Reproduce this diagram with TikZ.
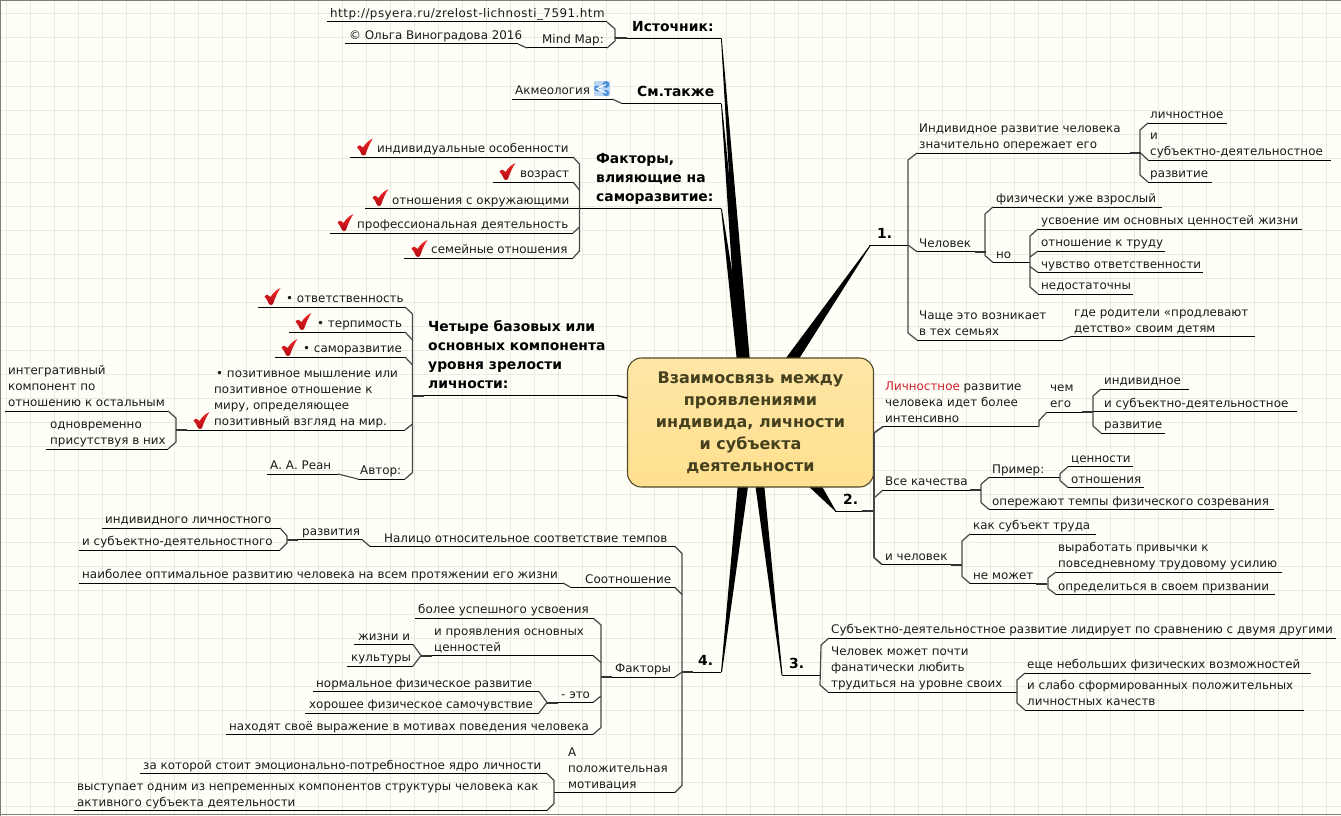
\documentclass[tikz,border=0pt]{standalone}
\usepackage{fontspec}
\setmainfont{DejaVu Sans}
\definecolor{paper}{HTML}{FFFFF8}
\definecolor{gridc}{HTML}{EBEBE1}
\definecolor{framec}{HTML}{808078}
\definecolor{inkc}{HTML}{1A1A1A}
\definecolor{boxfill}{HTML}{FFE08F}
\definecolor{boxtop}{HTML}{FFE6A6}
\definecolor{boxedge}{HTML}{4F4A28}
\definecolor{boxtext}{HTML}{45401E}
\definecolor{redw}{HTML}{D0202E}
\definecolor{chkhi}{HTML}{F0282A}
\definecolor{chklo}{HTML}{B00810}
\definecolor{iconb}{HTML}{4A90DC}
\definecolor{iconl}{HTML}{BBD6F2}
\tikzset{
 ln/.style={draw=black,line width=1pt},
 br/.style={draw=black!72,line width=1.2pt,line join=round},
 stubl/.style={draw=black!80,line width=2pt},
 txt/.style={anchor=south west,inner sep=0pt,align=left,text=inkc,font=\fontsize{11.9}{16}\selectfont},
 btxt/.style={anchor=south west,inner sep=0pt,align=left,text=black,font=\fontsize{13.9}{19}\selectfont\bfseries},
 wedgef/.style={fill=black,draw=none},
 hub/.style={draw=boxedge,line width=1.1pt,rounded corners=14pt,top color=boxtop,bottom color=boxfill,
   minimum width=246pt,minimum height=129pt,inner sep=0pt,align=center,text=boxtext,
   font=\fontsize{16}{22}\selectfont\bfseries},
}
\newcommand\mystrut{\rule[-3.5pt]{0pt}{3.5pt}}
\newcommand\topic[6]{\coordinate (#1-l) at (#2,#4);\coordinate (#1-r) at (#3,#4);
  \draw[ln] (#1-l) -- (#1-r);
  \node[txt] (#1) at (#5,#4-0.5) {#6\mystrut};}
\newcommand\head[6]{\coordinate (#1-l) at (#2,#4);\coordinate (#1-r) at (#3,#4);
  \draw[ln] (#1-l) -- (#1-r);
  \node[btxt] (#1) at (#5,#4-3) {#6\mystrut};}
% bracket on the right end of children a..b / on the left end of children a..b
\newcommand\brR[3][7]{\draw[br] (#2-r) -- ([shift={(#1,7)}]#2-r) -- ([shift={(#1,-7)}]#3-r) -- (#3-r);}
\newcommand\brL[3][8]{\draw[br] (#2-l) -- ([shift={(-#1,7)}]#2-l) -- ([shift={(-#1,-7)}]#3-l) -- (#3-l);}
\newcommand\tickR[3][7]{\draw[br] (#2-r) -- ++(#1,#3);}
\newcommand\tickL[3][8]{\draw[br] (#2-l) -- ++(-#1,#3);}
\newcommand\stubR[1]{\draw[stubl] (#1-r) -- ++(-11,0);}
\newcommand\stubL[1]{\draw[stubl] (#1-l) -- ++(11,0);}
\newcommand\chk[2]{\shade[shift={(#1,#2)},top color=chkhi,bottom color=chklo,draw=none]
  (0.5,8.5) .. controls (2.5,6) and (5,6.5) .. (6.5,9) .. controls (9,5) and (12.5,1.5) .. (16.5,0)
  .. controls (13.5,4) and (11,10) .. (9,16) .. controls (8,17.5) and (6,17.5) .. (5,16)
  .. controls (4,13) and (2.5,11) .. (0.5,8.5) -- cycle;}
\begin{document}
\begin{tikzpicture}[x=1pt,y=-1pt]
\useasboundingbox (0,0) rectangle (1341,816);
\fill[paper] (0,0) rectangle (1341,816);
\foreach \gx in {0,...,55} \draw[gridc,line width=1pt] (6+24*\gx,0) -- (6+24*\gx,816);
\foreach \gy in {0,...,33} \draw[gridc,line width=1pt] (0,14+24*\gy) -- (1341,14+24*\gy);
\draw[framec,line width=1.6pt] (0.6,816) -- (0.6,0.6) -- (1341,0.6);
\draw[framec,line width=1.2pt] (0,814.8) -- (1341,814.8);

% ---- wedges
\coordinate (t1) at (721,38.5); \coordinate (t2) at (721,103.5); \coordinate (t3) at (721,208.5);
\coordinate (tr1) at (870,245); \coordinate (tr2) at (835,511); \coordinate (tr3) at (781.5,675); \coordinate (tr4) at (721,672);
\fill[wedgef] (t1) -- (740,362) -- (750,362) -- (721.8,38.5) -- cycle;
\fill[wedgef] (t2) -- (738,362) -- (748,362) -- (721.8,103.5) -- cycle;
\fill[wedgef] (t3) -- (737,362) -- (747,362) -- (721.8,208.5) -- cycle;
\fill[wedgef] (tr1) -- (783,362) -- (797,362) -- (871,245) -- cycle;
\fill[wedgef] (tr2) -- (805,483) -- (820,483) -- (836,511) -- cycle;
\fill[wedgef] (tr3) -- (755,483) -- (764,483) -- (782.5,675) -- cycle;
\fill[wedgef] (tr4) -- (738,483) -- (748.5,483) -- (722,672) -- cycle;

% ---- top left
\topic{url}{327}{607}{22}{330}{\addfontfeature{LetterSpace=4}http://psyera.ru/zrelost-lichnosti\_7591.htm}
\topic{mm}{527}{607}{48}{542}{Mind Map:}
\topic{olga}{345}{518}{44}{349}{© Ольга Виноградова 2016}
\draw[br] (olga-r) -- (mm-l);
\brR[8]{url}{mm}
\head{src}{615}{721}{38.5}{632}{Источник:}
\draw[stubl] (src-l) -- ++(12,0);

\topic{akm}{512}{612}{99}{515}{Акмеология}
\head{see}{622}{721}{103.5}{637}{См.также}
\draw[br] (akm-r) -- (see-l);
\begin{scope}[shift={(594,81)}]
  \fill[iconl,rounded corners=1pt] (0,0) rectangle (16,15);
  \fill[iconb] (3,7.5) circle (3) (12,3.5) circle (3.4) (12,12) circle (3.2);
  \draw[white,line width=1.2pt] (12,3.5) -- (3,7.5) -- (12,12);
\end{scope}

\topic{find}{350}{573}{157}{377}{индивидуальные особенности}
\topic{fage}{493}{573}{182}{520}{возраст}
\topic{foth}{365}{580}{208.5}{392}{отношения с окружающими}
\topic{fprof}{330}{573}{233}{357}{профессиональная деятельность}
\topic{ffam}{404}{573}{258}{431}{семейные отношения}
\head{fact}{580}{721}{208.5}{596}{Факторы,\\влияющие на\\саморазвитие:}
\brR[6.5]{find}{ffam}
\tickR[6.5]{fage}{8}
\tickR[6.5]{fprof}{-6}
\chk{356.5}{138.5}\chk{499}{163}\chk{372}{189}\chk{337}{214}\chk{411}{240}

% ---- four components
\topic{cres}{258}{405}{307}{286}{• ответственность}
\topic{ctol}{289}{405}{332}{317}{• терпимость}
\topic{cself}{275}{405}{357}{303}{• саморазвитие}
\topic{cpos}{176}{405}{430}{214}{\hspace*{2pt}• позитивное мышление или\\позитивное отношение к\\миру, определяющее\\позитивный взгляд на мир.}
\topic{caut}{358}{405}{479}{360}{Автор:}
\topic{crean}{267}{338}{474}{270}{А. А. Реан}
\draw[br] (crean-r) -- (caut-l);
\head{four}{413}{617}{395.5}{428}{Четыре базовых или\\основных компонента\\уровня зрелости\\личности:}
\draw[br] (cres-r) -- ++(7.5,7) -- (412.5,472.5) -- (caut-r);
\tickR[7.5]{ctol}{8}
\tickR[7.5]{cself}{8}
\tickR[7.5]{cpos}{-6}
\stubL{four}
\topic{cint}{5}{168}{411}{8}{интегративный\\компонент по\\отношению к остальным}
\topic{csim}{46}{168}{449}{50}{одновременно\\присутствуя в них}
\brR[8]{cint}{csim}
\stubL{cpos}
\chk{264}{288}\chk{295}{313}\chk{281}{339}\chk{193}{412}

% ---- hub
\node[hub] (hub) at (750.5,422.5) {Взаимосвязь между\\проявлениями\\индивида, личности\\и субъекта\\деятельности};
\draw[ln,line width=1.4pt] (four-r) -- (hub.west |- 0,398);

% ---- branch 1
\head{b1}{869}{908}{245}{877}{1.}
\topic{ii}{917}{1140.5}{153}{919}{Индивидное развитие человека\\значительно опережает его}
\topic{man}{917}{985.5}{251.7}{919}{Человек}
\topic{oft}{917}{1063}{340}{919}{Чаще это возникает\\в тех семьях}
\brL[9]{ii}{oft}
\tickL[9]{man}{-6.7}
\topic{lic}{1148}{1227}{123}{1150}{личностное}
\topic{sub}{1148}{1331}{160}{1150}{и\\субъектно-деятельностное}
\topic{raz}{1148}{1212}{182}{1150}{развитие}
\brL{lic}{raz}
\draw[br] (ii-r) -- (sub-l);
\stubR{ii}
\topic{fiz}{993}{1162}{207}{996}{физически уже взрослый}
\topic{no}{993}{1030}{262.5}{996}{но}
\brL{fiz}{no}
\stubR{man}
\topic{usv}{1038}{1302}{229}{1041}{усвоение им основных ценностей жизни}
\topic{otr}{1038}{1165}{251}{1041}{отношение к труду}
\topic{chu}{1038}{1203}{272.5}{1041}{чувство ответственности}
\topic{ned}{1038}{1133}{294}{1041}{недостаточны}
\brL{usv}{ned}
\tickL{otr}{6}
\tickL{chu}{-6}
\topic{rod}{1071}{1255}{336.5}{1074}{где родители «продлевают\\детство» своим детям}
\draw[br] (oft-r) -- (rod-l);

% ---- branch 2
\head{b2}{835}{874}{511}{843}{2.}
\draw[stubl] (b2-r) -- ++(-12,0);
\topic{per}{883}{1039}{426.5}{885}{\textcolor{redw}{Личностное} развитие\\человека идет более\\интенсивно}
\topic{chem}{1047}{1093}{412}{1050}{чем\\его}
\draw[br] (per-r) -- ++(0,-6) -- (chem-l);
\stubR{chem}
\topic{ind}{1101}{1189}{389}{1104}{индивидное}
\topic{isub}{1093}{1297}{411.5}{1104}{и субъектно-деятельностное}
\topic{irz}{1101}{1165}{433}{1104}{развитие}
\brL{ind}{irz}
\topic{vse}{883}{981}{490}{885}{Все качества}
\topic{ich}{882}{962}{564.5}{885}{и человек}
\draw[br,line width=1.6pt] (per-l) -- ++(-9,6.5) -- ([shift={(-8,-7)}]ich-l) -- (ich-l);
\tickL[9]{vse}{8}
\topic{pri}{989}{1060}{477.3}{992}{Пример:}
\topic{ope}{989}{1274}{509.5}{992}{опережают темпы физического созревания}
\brL{pri}{ope}
\stubR{vse}
\topic{cen}{1068}{1133}{466.7}{1071}{ценности}
\topic{otn}{1068}{1144}{487.5}{1071}{отношения}
\brL{cen}{otn}
\topic{kak}{970}{1096}{534}{973}{как субъект труда}
\topic{nem}{970}{1047}{583.5}{973}{не может}
\brL{kak}{nem}
\stubR{ich}
\topic{vyr}{1056}{1282}{572}{1058}{выработать привычки к\\повседневному трудовому усилию}
\topic{opr}{1056}{1275}{594.5}{1058}{определиться в своем призвании}
\draw[br] (vyr-l) -- ++(-8,6) -- ([shift={(-8,-6)}]opr-l) -- (opr-l);
\stubR{nem}

% ---- branch 3
\head{b3}{781.5}{820}{675}{789}{3.}
\topic{sd}{829}{1336}{638}{831}{Субъектно-деятельностное развитие лидирует по сравнению с двумя другими}
\topic{chm}{828}{1016.7}{692}{831}{Человек может почти\\фанатически любить\\трудиться на уровне своих}
\brL{sd}{chm}
\topic{esh}{1025}{1311}{673}{1027}{еще небольших физических возможностей}
\topic{isl}{1025}{1304}{710}{1027}{и слабо сформированных положительных\\личностных качеств}
\brL{esh}{isl}

% ---- branch 4
\head{b4}{682}{721}{672}{698}{4.}
\stubL{b4}
\topic{nal}{370}{675}{546.5}{384}{Налицо относительное соответствие темпов}
\topic{soo}{571}{675}{587.5}{585}{Соотношение}
\topic{fak}{601}{675}{677}{615}{Факторы}
\topic{apo}{554}{675}{792.5}{568}{А\\положительная\\мотивация}
\brR{nal}{apo}
\tickR{soo}{7}
\tickR{fak}{-5}
\topic{raz2}{287}{362}{539.5}{302}{развития}
\draw[br] (raz2-r) -- (nal-l);
\stubL{raz2}
\topic{ilic}{102}{280}{528}{105}{индивидного личностного}
\topic{isd}{79}{280}{550}{82}{и субъектно-деятельностного}
\draw[br] (ilic-r) -- ++(7,8) -- ([shift={(7,-7)}]isd-r) -- (isd-r);
\topic{opt}{79}{563}{583}{82}{наиболее оптимальное развитию человека на всем протяжении его жизни}
\draw[br] (opt-r) -- (soo-l);
\stubL{fak}
\topic{bol}{415}{593}{618}{418}{более успешного усвоения}
\topic{ipr}{421}{593}{655.5}{434}{и проявления основных\\ценностей}
\topic{eto}{547}{593}{702.5}{561}{- это}
\topic{nah}{226}{593}{734.5}{229}{находят своё выражение в мотивах поведения человека}
\brR[8]{bol}{nah}
\tickR[8]{ipr}{7}
\tickR[8]{eto}{-6.5}
\stubL{ipr}
\topic{zhi}{354}{413}{644.5}{358}{жизни и}
\topic{kul}{347}{413}{666}{351}{культуры}
\draw[br] (zhi-r) -- (ipr-l) -- (kul-r);
\stubL{eto}
\topic{nor}{313}{539}{691.5}{316}{нормальное физическое развитие}
\topic{hor}{305}{539}{713}{309}{хорошее физическое самочувствие}
\draw[br] (nor-r) -- (eto-l) -- (hor-r);
\topic{zak}{140}{547}{773.5}{143}{за которой стоит эмоционально-потребностное ядро личности}
\topic{vys}{74}{547}{810.5}{77}{выступает одним из непременных компонентов структуры человека как\\активного субъекта деятельности}
\brR{zak}{vys}
\end{tikzpicture}
\end{document}
